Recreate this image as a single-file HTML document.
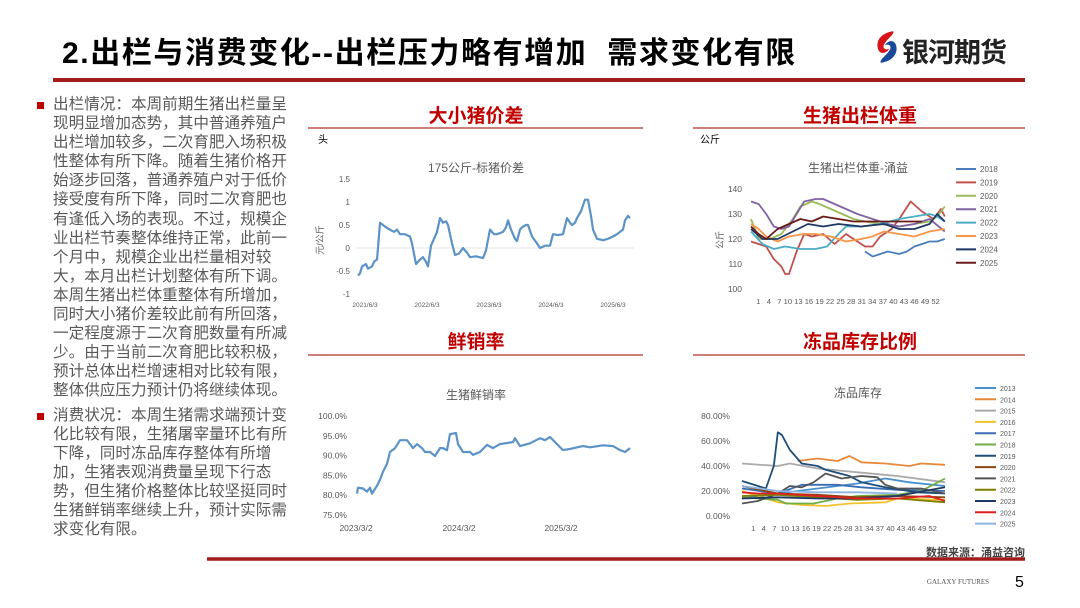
<!DOCTYPE html>
<html><head><meta charset="utf-8">
<style>
body{margin:0;width:1080px;height:608px;background:#fff;overflow:hidden;position:relative;font-family:"Liberation Sans","Noto Sans CJK SC",sans-serif}
.t{position:absolute;white-space:nowrap}
#txt{position:absolute;left:53px;top:95px;font-size:15.6px;color:#595959;line-height:19.1px}
#txt div{white-space:nowrap}
.b{position:absolute;left:-16px;width:7px;height:7px;background:#c00000}
</style></head><body>
<div class="t" style="left:62px;top:28px;font-size:30px;font-weight:bold;color:#000;letter-spacing:1.6px">2.出栏与消费变化--出栏压力略有增加&nbsp;&nbsp;需求变化有限</div>
<div style="position:absolute;left:53px;top:78px;width:972px;height:4px;background:#a31c1c"></div>
<svg style="position:absolute;left:874px;top:29px" width="26" height="36" viewBox="0 0 24 33"><path d="M18 2 C6 3 1 12 4 19 C6 24 12 22 14 18 C10 20 7 17 10 13 C13 8 18 6 18 2Z" fill="#d7141a"/><path d="M6 31 C18 30 23 21 20 14 C18 9 12 11 10 15 C14 13 17 16 14 20 C11 25 6 27 6 31Z" fill="#1a4a9c"/></svg>
<div class="t" style="left:902px;top:31px;font-size:27px;font-weight:bold;color:#222;letter-spacing:-1px">银河期货</div>

<div id="txt">
<div style="position:relative"><span class="b" style="top:7px"></span>出栏情况：本周前期生猪出栏量呈</div>
<div>现明显增加态势，其中普通养殖户</div>
<div>出栏增加较多，二次育肥入场积极</div>
<div>性整体有所下降。随着生猪价格开</div>
<div>始逐步回落，普通养殖户对于低价</div>
<div>接受度有所下降，同时二次育肥也</div>
<div>有逢低入场的表现。不过，规模企</div>
<div>业出栏节奏整体维持正常，此前一</div>
<div>个月中，规模企业出栏量相对较</div>
<div>大，本月出栏计划整体有所下调。</div>
<div>本周生猪出栏体重整体有所增加，</div>
<div>同时大小猪价差较此前有所回落，</div>
<div>一定程度源于二次育肥数量有所减</div>
<div>少。由于当前二次育肥比较积极，</div>
<div>预计总体出栏增速相对比较有限，</div>
<div>整体供应压力预计仍将继续体现。</div>
<div style="position:relative;margin-top:5px"><span class="b" style="top:7px"></span>消费状况：本周生猪需求端预计变</div>
<div>化比较有限，生猪屠宰量环比有所</div>
<div>下降，同时冻品库存整体有所增</div>
<div>加，生猪表观消费量呈现下行态</div>
<div>势，但生猪价格整体比较坚挺同时</div>
<div>生猪鲜销率继续上升，预计实际需</div>
<div>求变化有限。</div>
</div>

<svg id="s" style="position:absolute;left:0;top:0" width="1080" height="608" font-family="Liberation Sans, Noto Sans CJK SC, sans-serif">
<g font-weight="bold" fill="#c00000" font-size="19" text-anchor="middle">
<text x="476" y="122">大小猪价差</text><text x="860" y="122">生猪出栏体重</text>
<text x="476" y="348">鲜销率</text><text x="860" y="348">冻品库存比例</text></g>
<g stroke="#c0504d" stroke-width="1.5"><line x1="308" y1="128" x2="643" y2="128"/><line x1="693" y1="128" x2="1025" y2="128"/><line x1="308" y1="355" x2="643" y2="355"/><line x1="693" y1="355" x2="1025" y2="355"/></g>
<line x1="207" y1="559" x2="1025" y2="559" stroke="#a31c1c" stroke-width="3.5"/>
<text x="1025" y="556" text-anchor="end" font-size="11" font-weight="bold" fill="#444">数据来源：涌益咨询</text>
<text x="958" y="584" text-anchor="middle" font-size="7" fill="#555" font-family="Liberation Serif, serif">GALAXY FUTURES</text>
<text x="1015" y="587" font-size="16" fill="#000">5</text>
<g font-size="10" fill="#000"><text x="318" y="143">头</text><text x="700" y="143">公斤</text></g>
<g font-size="12" fill="#595959" text-anchor="middle">
<text x="476" y="172">175公斤-标猪价差</text><text x="858" y="172">生猪出栏体重-涌益</text>
<text x="476" y="399">生猪鲜销率</text><text x="858" y="397">冻品库存</text></g>
<g id="g"></g>
</svg>
<script>
var g=document.getElementById('g'),h='';
function T(x,y,s,a,fs,c){h+='<text x="'+x+'" y="'+y+'" font-size="'+(fs||8)+'" fill="'+(c||'#595959')+'" text-anchor="'+(a||'middle')+'">'+s+'</text>';}
function P(pts,c,w){h+='<polyline fill="none" stroke="'+c+'" stroke-width="'+(w||2)+'" stroke-linejoin="round" points="'+pts.map(function(p){return p[0].toFixed(1)+','+p[1].toFixed(1)}).join(' ')+'"/>';}
[['1.5',179],['1',202],['0.5',225],['0',248],['-0.5',271],['-1',294]].forEach(function(a){T(350,a[1]+3,a[0],'end',8);});
h+='<line x1="356" y1="248" x2="634" y2="248" stroke="#e5e5e5"/>';
[['2021/6/3',365],['2022/6/3',427],['2023/6/3',489],['2024/6/3',551],['2025/6/3',613]].forEach(function(a){T(a[1],307,a[0],'middle',6.5);});
h+='<text transform="translate(323,240) rotate(-90)" font-size="9" fill="#595959" text-anchor="middle">元/公斤</text>';
var d1=[[358,-.6],[360,-.55],[362,-.4],[366,-.35],[368,-.45],[372,-.4],[374,-.3],[377,-.25],[378,0],[380,.55],[383,.5],[386,.45],[390,.4],[394,.35],[397,.4],[400,.3],[405,.3],[410,.25],[412,.1],[416,-.35],[420,-.25],[423,-.2],[426,-.3],[428,-.4],[431,.05],[434,.2],[437,.35],[440,.65],[443,.55],[446,.58],[448,.5],[452,.1],[455,-.15],[459,-.12],[463,0],[467,-.1],[470,-.2],[476,-.18],[483,-.22],[486,-.05],[490,.4],[494,.3],[497,.3],[503,.35],[506,.45],[508,.6],[511,.4],[515,.2],[517,.15],[520,.4],[522,.45],[526,.5],[528,.5],[532,.25],[537,.1],[540,0],[545,.05],[550,.05],[553,.3],[558,.28],[563,.3],[567,.65],[570,.55],[572,.5],[575,.55],[577,.65],[581,.8],[585,1.05],[588,1.05],[591,.7],[593,.4],[597,.2],[603,.17],[608,.2],[613,.25],[617,.3],[620,.35],[623,.4],[625,.6],[628,.7],[630,.65]];
P(d1.map(function(p){return [p[0],248-p[1]*46]}),'#5b93c7',2.2);
[140,130,120,110,100].forEach(function(v,i){T(742,189+i*25+3,v,'end',8.5);});
h+='<text transform="translate(723,240) rotate(-90)" font-size="9" fill="#595959" text-anchor="middle">公斤</text>';
T(848,304,'1&#160;&#160;&#160;4&#160;&#160;&#160;7&#160;10 13 16 19 22 25 28 31 34 37 40 43 46 49 52','middle',7.6);
function X2(w){return 751+(w-1)*3.8}function Y2(v){return 214-(v-130)*2.5}
var s2=[['2018','#4a7ebb',[[31,115],[33,113],[35,114],[37,115],[40,114],[42,115],[44,117],[46,118],[48,119],[50,119],[52,120]]],
['2019','#c0504d',[[1,119],[3,118],[5,117],[7,112],[9,109],[10,106],[11,106],[13,115],[15,122],[17,121],[20,122],[23,118],[26,122],[29,119],[31,117],[33,117],[35,121],[38,124],[40,128],[43,135],[46,131],[49,128],[51,132],[52,129]]],
['2020','#9bbb59',[[1,128],[3,120],[6,120],[9,122],[12,128],[14,133],[17,135],[19,134],[22,132],[25,130],[28,128],[31,127],[35,126],[40,125],[44,126],[48,127],[50,129],[52,133]]],
['2021','#8064a2',[[1,135],[3,134],[5,130],[7,125],[9,124],[11,125],[13,130],[15,135],[18,136],[20,136],[23,134],[26,132],[29,130],[33,128],[37,126],[40,125],[44,126],[48,128],[52,123]]],
['2022','#4bacc6',[[1,123],[4,118],[7,116],[10,117],[14,116],[18,116],[21,117],[24,122],[26,125],[30,125],[35,126],[40,128],[44,129],[48,130],[50,129],[52,127]]],
['2023','#f79646',[[1,126],[3,124],[5,121],[8,119],[11,121],[15,122],[18,122],[22,121],[26,119],[30,120],[33,121],[36,123],[40,122],[44,121],[48,123],[52,124]]],
['2024','#1f3864',[[1,124],[4,120],[8,120],[12,123],[16,126],[20,125],[24,126],[30,125],[36,126],[40,124],[44,124],[48,126],[50,130],[52,127]]],
['2025','#6b1a1a',[[1,125],[3,122],[5,120],[8,124],[11,126],[14,128],[17,127],[20,129],[24,128],[28,127],[32,127],[36,127],[40,127],[44,127],[46,127]]]];
s2.forEach(function(s,i){P(s[2].map(function(p){return [X2(p[0]),Y2(p[1])]}),s[1],1.8);var y=169+i*13.4;h+='<line x1="956" x2="976" y1="'+y+'" y2="'+y+'" stroke="'+s[1]+'" stroke-width="2"/>';T(980,y+3,s[0],'start',8);});
['100.0%','95.0%','90.0%','85.0%','80.0%','75.0%'].forEach(function(s,i){T(347,416+i*19.8+3,s,'end',8.5);});
[['2023/3/2',356],['2024/3/2',459],['2025/3/2',561]].forEach(function(a){T(a[1],531,a[0],'middle',8.5);});
var d3=[[357,80.5],[358,82],[363,81.8],[367,81],[370,82],[372,80.5],[377,82.5],[380,84],[383,86],[387,88],[390,91],[395,92],[400,94],[407,94],[413,92],[417,93],[422,92],[425,91],[430,91],[435,90],[440,92],[443,92],[447,91.5],[450,95.5],[456,95.8],[458,93],[463,91],[470,91],[473,90.3],[480,91],[487,92.8],[493,92],[500,93],[513,93.5],[515,94.5],[520,92.5],[530,93.2],[540,94.5],[545,94],[550,94.8],[557,93],[563,91.5],[570,91.8],[583,92.5],[590,92.2],[603,92.7],[613,92.5],[620,91.5],[625,91],[630,92]];
P(d3.map(function(p){return [p[0],456-(p[1]-90)*3.96]}),'#5b93c7',2.2);
['80.00%','60.00%','40.00%','20.00%','0.00%'].forEach(function(s,i){T(730,416+i*25+3,s,'end',8.5);});
T(844,531,'1&#160;&#160;&#160;4&#160;&#160;&#160;7&#160;&#160;10 13 16 19 22 25 28 31 34 37 40 43 46 49 52','middle',7.6);
function X4(w){return 742+(w-1)*3.98}function Y4(v){return 516-v*1.25}
var s4=[['2013','#4a90d0',[[1,14],[10,18],[20,22],[30,26],[37,30],[43,27],[52,24]]],
['2014','#e6893a',[[15,44],[20,46],[25,44],[28,48],[31,43],[37,42],[43,40],[46,42],[52,41]]],
['2015','#aaaaaa',[[1,42],[10,40],[13,42],[20,38],[30,35],[40,32],[52,27]]],
['2016','#f2c12e',[[1,20],[10,11],[16,9],[22,8],[28,10],[37,11],[40,14],[52,13]]],
['2017','#3b6cb5',[[1,22],[10,18],[16,25],[25,25],[31,23],[40,21],[52,20]]],
['2018','#70ad47',[[1,15],[10,13],[12,10],[19,10],[25,14],[30,16],[40,17],[46,20],[52,30]]],
['2019','#1f4e79',[[1,28],[7,22],[9,40],[10,67],[11,65],[13,53],[16,42],[20,40],[22,37],[28,32],[31,27],[37,23],[45,19],[52,18]]],
['2020','#8b4513',[[1,24],[10,18],[20,17],[30,15],[40,16],[52,15]]],
['2021','#555555',[[1,10],[5,12],[10,18],[13,24],[16,23],[19,27],[22,34],[26,30],[31,32],[35,31],[37,25],[40,22],[46,22],[52,18]]],
['2022','#7f7f00',[[1,16],[10,17],[20,15],[30,13],[40,14],[52,11]]],
['2023','#1f3864',[[1,14],[10,15],[20,14],[30,14],[40,16],[52,23]]],
['2024','#e02020',[[1,19],[5,18],[10,18],[20,16],[30,14],[40,14],[48,16],[52,12]]],
['2025','#8db4e2',[[1,24],[10,20],[20,19],[30,19],[40,18]]]];
s4.forEach(function(s,i){P(s[2].map(function(p){return [X4(p[0]),Y4(p[1])]}),s[1],1.8);var y=388+i*11.3;h+='<line x1="975" x2="996" y1="'+y+'" y2="'+y+'" stroke="'+s[1]+'" stroke-width="2"/>';T(1000,y+3,s[0],'start',7);});
g.innerHTML=h;
</script>
</body></html>
